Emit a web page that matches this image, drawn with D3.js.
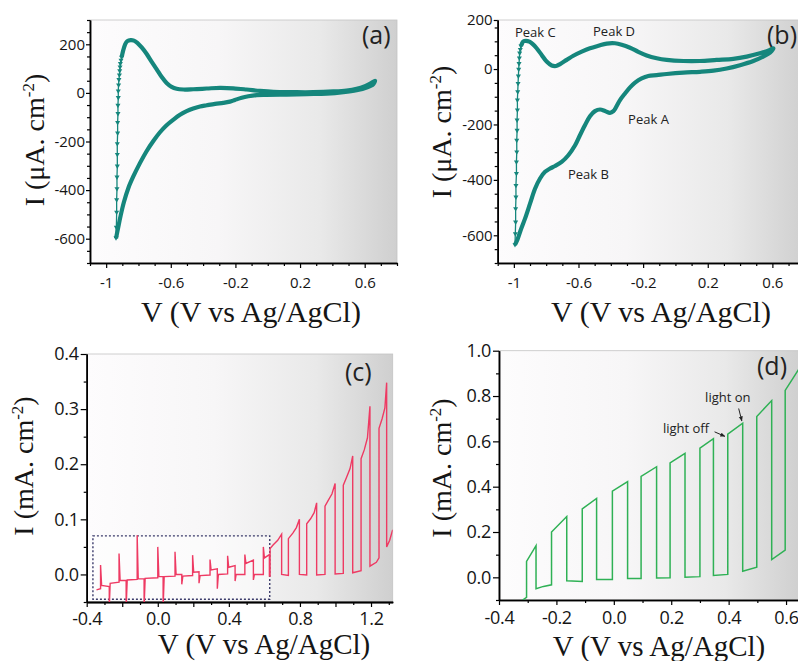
<!DOCTYPE html>
<html>
<head>
<meta charset="utf-8">
<script src="https://d3js.org/d3.v7.min.js"></script>
<style>
    body { margin: 0; background: #fff; }
    .tick text { font-family: "Open Sans", sans-serif; fill: #151515; }
    .domain { stroke: #000; stroke-width: 1.5; }
    .tick line { stroke: #000; stroke-width: 1.2; }
    .title { font-family: "Liberation Serif", serif; fill: #151515; }
    .note { font-family: "Open Sans", sans-serif; fill: #222; }
</style>
</head>
<body>
<svg id="chart" width="798" height="661"></svg>
<script>
// (a) CV, steep part near -0.93 V (drawn with markers) and the main loop, [V, uA/cm2]
var aTurn = [[-0.939,-596],[-0.937,-553],[-0.935,-491],[-0.935,-440],[-0.933,-394],[-0.933,-346],
    [-0.931,-301],[-0.931,-253],[-0.931,-209],[-0.929,-165],[-0.929,-122],[-0.927,-85],[-0.927,-51],
    [-0.925,-19],[-0.925,8],[-0.923,33],[-0.921,55],[-0.918,74],[-0.916,91],[-0.914,107],[-0.912,121],
    [-0.908,135],[-0.904,147]];
var aLoop = [[-0.904,147],[-0.894,176],[-0.883,199],[-0.869,213],[-0.848,217],[-0.828,215],[-0.807,206],
    [-0.780,187],[-0.749,160],[-0.718,128],[-0.687,97],[-0.657,66],[-0.626,41],[-0.595,25],[-0.564,17],
    [-0.522,14],[-0.461,15],[-0.378,18],[-0.296,21],[-0.213,19],[-0.131,14],[-0.048,8],[0.035,4],
    [0.158,3],[0.282,3],[0.406,6],[0.488,10],[0.550,17],[0.602,28],[0.637,39],[0.664,50],
    [0.653,36],[0.612,22],[0.550,11],[0.468,3],[0.365,-3],[0.241,-5],[0.117,-7],[-0.007,-8],
    [-0.069,-9],[-0.120,-14],[-0.161,-20],[-0.203,-29],[-0.234,-36],[-0.275,-41],[-0.326,-45],
    [-0.378,-51],[-0.419,-56],[-0.461,-64],[-0.502,-75],[-0.543,-90],[-0.584,-110],[-0.626,-133],
    [-0.667,-162],[-0.708,-198],[-0.749,-239],[-0.791,-289],[-0.832,-344],[-0.863,-392],[-0.890,-449],
    [-0.910,-504],[-0.925,-552],[-0.939,-599]];

// (b) CV
var bTurn = [[-0.993,-634],[-0.991,-594],[-0.989,-552],[-0.989,-504],[-0.987,-462],[-0.987,-420],
    [-0.984,-377],[-0.984,-335],[-0.982,-299],[-0.982,-257],[-0.980,-221],[-0.980,-184],[-0.978,-148],
    [-0.978,-112],[-0.976,-82],[-0.974,-52],[-0.972,-25],[-0.970,-1],[-0.968,20],[-0.966,40],
    [-0.964,58],[-0.960,71],[-0.956,83]];
var bLoop = [[-0.956,83],[-0.951,90],[-0.941,100],[-0.925,102],[-0.904,99],[-0.883,90],[-0.859,75],
    [-0.828,51],[-0.797,27],[-0.766,13],[-0.739,11],[-0.714,18],[-0.673,33],[-0.632,48],[-0.580,63],
    [-0.529,75],[-0.477,84],[-0.425,92],[-0.374,93],[-0.333,88],[-0.281,77],[-0.230,62],[-0.178,49],
    [-0.116,39],[-0.054,33],[0.049,29],[0.152,29],[0.255,33],[0.358,37],[0.441,45],[0.523,57],
    [0.585,69],[0.606,75],
    [0.585,59],[0.544,45],[0.482,29],[0.400,14],[0.317,2],[0.235,-6],[0.152,-10],[0.049,-13],
    [-0.054,-18],[-0.116,-22],[-0.168,-25],[-0.209,-34],[-0.250,-49],[-0.281,-66],[-0.312,-88],
    [-0.343,-112],[-0.364,-134],[-0.384,-152],[-0.405,-158],[-0.436,-151],[-0.467,-146],[-0.498,-152],
    [-0.529,-170],[-0.560,-203],[-0.591,-239],[-0.621,-275],[-0.663,-311],[-0.704,-335],[-0.745,-350],
    [-0.776,-359],[-0.807,-371],[-0.838,-395],[-0.869,-432],[-0.900,-486],[-0.931,-540],[-0.958,-582],
    [-0.978,-616],[-0.993,-634]];
var bPeaks = [["Peak C",-0.993,116],["Peak D",-0.510,119],["Peak A",-0.293,-199],["Peak B",-0.665,-398]];

// (c) chopped LSV [V, mA/cm2]
var cCurve = [[-0.345,-0.028],
    [-0.322,-0.026],[-0.322,0.017],[-0.316,-0.020],[-0.273,-0.022],[-0.273,-0.060],[-0.268,-0.016],
    [-0.218,-0.014],[-0.218,0.038],[-0.212,-0.011],[-0.178,-0.011],[-0.178,-0.060],[-0.172,-0.010],
    [-0.116,-0.009],[-0.116,0.071],[-0.110,-0.008],[-0.077,-0.008],[-0.077,-0.060],[-0.071,-0.007],
    [0.000,-0.006],[0.000,0.050],[0.006,-0.004],[0.030,-0.004],[0.030,-0.060],[0.036,-0.004],
    [0.097,-0.003],[0.097,0.041],[0.103,0.000],[0.135,0.000],[0.135,-0.018],[0.141,-0.003],
    [0.196,-0.002],[0.196,0.035],[0.202,0.004],[0.232,0.005],[0.232,-0.016],[0.238,-0.002],
    [0.294,-0.001],[0.294,0.027],[0.300,0.008],[0.335,0.010],[0.335,-0.026],[0.341,0.000],
    [0.393,0.001],[0.393,0.034],[0.399,0.013],[0.435,0.016],[0.435,-0.012],[0.441,0.000],
    [0.490,0.000],[0.490,0.036],[0.496,0.020],[0.538,0.026],[0.538,-0.010],[0.544,0.000],
    [0.594,0.000],[0.594,0.050],[0.600,0.030],[0.628,0.036],[0.628,-0.003],[0.632,-0.003],
    [0.632,0.047],[0.650,0.054],[0.675,0.062],[0.697,0.073],[0.697,0.000],[0.735,-0.002],
    [0.735,0.065],[0.760,0.075],[0.780,0.085],[0.797,0.100],[0.797,0.000],[0.838,-0.001],
    [0.838,0.092],[0.860,0.101],[0.880,0.112],[0.894,0.130],[0.894,-0.001],[0.941,0.000],
    [0.941,0.124],[0.960,0.135],[0.980,0.146],[0.998,0.165],[0.998,0.001],[1.044,0.002],
    [1.044,0.162],[1.062,0.176],[1.082,0.192],[1.097,0.215],[1.097,0.003],[1.144,0.007],
    [1.144,0.210],[1.162,0.226],[1.180,0.248],[1.194,0.305],[1.194,0.015],[1.230,0.022],[1.245,0.030],
    [1.245,0.265],[1.262,0.282],[1.278,0.302],[1.288,0.348],[1.288,0.050],[1.305,0.062],[1.322,0.081]];
var cBox = [-0.365, 0.63, -0.045, 0.07];   // V min, V max, I min, I max

// (d) chopped LSV
var dCurve = [[-0.318,-0.100],[-0.304,-0.088],[-0.304,0.070],[-0.271,0.140],[-0.271,-0.050],
    [-0.245,-0.040],[-0.217,-0.033],
    [-0.217,0.200],[-0.164,0.268],[-0.164,-0.015],[-0.110,-0.018],
    [-0.110,0.302],[-0.060,0.348],[-0.060,-0.009],[-0.005,-0.009],
    [-0.005,0.380],[0.048,0.422],[0.048,-0.005],[0.095,-0.005],
    [0.095,0.445],[0.149,0.488],[0.149,-0.003],[0.196,-0.002],
    [0.196,0.505],[0.248,0.547],[0.248,0.000],[0.300,0.003],
    [0.300,0.570],[0.347,0.612],[0.347,0.008],[0.397,0.013],
    [0.397,0.632],[0.449,0.680],[0.449,0.027],[0.498,0.045],
    [0.498,0.710],[0.550,0.780],[0.550,0.078],[0.597,0.120],
    [0.597,0.825],[0.620,0.870],[0.645,0.920]];
// [text, text V, text I, arrow from V, I, arrow to V, I]
var dNotes = [["light on",0.318,0.774,0.435,0.745,0.446,0.690],
    ["light off",0.171,0.637,0.351,0.642,0.387,0.622]];

// ticks
var xLabAB = [-1, -0.6, -0.2, 0.2, 0.6];
var xMinAB = [-1.1,-0.9,-0.8,-0.7,-0.5,-0.4,-0.3,-0.1,0,0.1,0.3,0.4,0.5,0.7,0.8];
var yLabA = [-600, -400, -200, 0, 200];
var yMinA = [-700,-650,-550,-500,-450,-350,-300,-250,-150,-100,-50,50,100,150,250,300];
var yLabB = [-600, -400, -200, 0, 177];
var yMinB = [-700,-650,-550,-500,-450,-350,-300,-250,-150,-100,-50,50,100,150];
var xLabC = [-0.4, 0, 0.4, 0.8, 1.2];
var xMidC = [-0.2, 0.2, 0.6, 1.0];
var xMinC = [-0.3,-0.1,0.1,0.3,0.5,0.7,0.9,1.1,1.3];
var yLabC = [0, 0.1, 0.2, 0.3, 0.4];
var yMinC = [-0.05, 0.05, 0.15, 0.25, 0.35];
var xLabD = [-0.4, -0.2, 0, 0.2, 0.4, 0.6];
var xMinD = [-0.3, -0.1, 0.1, 0.3, 0.5];
var yLabD = [0, 0.2, 0.4, 0.6, 0.8, 1.0];
var yMinD = [-0.1, 0.1, 0.3, 0.5, 0.7, 0.9];

var svg = d3.select("#chart");
var defs = svg.append("defs");
var grad = defs.append("linearGradient").attr("id", "bg");
[[0, "#fdfcfd"], [0.42, "#f7f6f7"], [0.75, "#e9e9e9"], [1, "#cfcfcf"]].forEach(function (s) {
    grad.append("stop").attr("offset", s[0]).attr("stop-color", s[1]);
});

function hy(s) { return s.replace("\u2212", "-"); }

function drawPanel(p) {
    var x = d3.scaleLinear().domain(p.xDomain).range(p.xRange);
    var y = d3.scaleLinear().domain(p.yDomain).range(p.yRange);
    var g = svg.append("g");
    var w = p.xRange[1] - p.xRange[0], h = p.yRange[0] - p.yRange[1];

    g.append("rect")
        .attr("x", p.xRange[0]).attr("y", p.yRange[1])
        .attr("width", w).attr("height", h)
        .attr("fill", "url(#bg)")
        .attr("stroke", "#c4c4c4").attr("stroke-width", 0.8);

    defs.append("clipPath").attr("id", "clip-" + p.id)
        .append("rect").attr("x", p.xRange[0]).attr("y", p.yRange[1])
        .attr("width", w).attr("height", h);

    var xg = g.append("g").attr("transform", "translate(0," + p.yRange[0] + ")");
    xg.call(d3.axisBottom(x).tickValues(p.xMin).tickSize(3).tickSizeOuter(0).tickFormat(""));
    if (p.xMid) xg.append("g").call(d3.axisBottom(x).tickValues(p.xMid).tickSize(5).tickSizeOuter(0).tickFormat(""));
    xg.append("g").call(d3.axisBottom(x).tickValues(p.xLab).tickSize(5).tickSizeOuter(0)
        .tickPadding(p.xPad).tickFormat(p.fmtX))
        .selectAll("text").style("font-size", p.fs + "px").style("letter-spacing", p.ls + "px");

    var yg = g.append("g").attr("transform", "translate(" + p.xRange[0] + ",0)");
    yg.call(d3.axisLeft(y).tickValues(p.yMin).tickSize(3).tickSizeOuter(0).tickFormat(""));
    yg.append("g").call(d3.axisLeft(y).tickValues(p.yLab).tickSize(p.yTick).tickSizeOuter(0)
        .tickPadding(p.yPad).tickFormat(p.fmtY))
        .selectAll("text").style("font-size", p.fs + "px").style("letter-spacing", p.ls + "px");

    // axis titles
    g.append("text").attr("class", "title")
        .attr("x", p.xTitle[0]).attr("y", p.xTitle[1])
        .attr("text-anchor", "middle").style("font-size", p.tfs + "px")
        .text("V (V vs Ag/AgCl)");
    var t = g.append("text").attr("class", "title")
        .attr("transform", "translate(" + p.yTitle[0] + "," + p.yTitle[1] + ") rotate(-90)")
        .attr("text-anchor", "middle").style("font-size", "28px");
    t.append("tspan").text(p.unit + "A. cm");
    t.append("tspan").attr("dy", -10).style("font-size", "17px").text("-2");
    t.append("tspan").attr("dy", 10).text(")");

    g.append("text").attr("class", "note")
        .attr("x", p.tag[0]).attr("y", p.tag[1])
        .style("font-size", "25px").text(p.tagText);

    var plot = g.append("g").attr("clip-path", "url(#clip-" + p.id + ")");
    return { x: x, y: y, g: g, plot: plot };
}

var fmtAB = function (d) { return hy(String(d)); };
var fmtCD = function (d) { return hy(d.toFixed(1)); };

var teal = "#15867c";

// (a)
var pa = drawPanel({ id: "a", xDomain: [-1.1, 0.8], xRange: [90, 397], yDomain: [-700, 300], yRange: [263, 20],
    xLab: xLabAB, xMin: xMinAB, yLab: yLabA, yMin: yMinA, fs: 15, ls: 0, xPad: 9, yPad: 1, yTick: 4,
    fmtX: fmtAB, fmtY: fmtAB, xTitle: [251, 322], tfs: 30, yTitle: [44, 140], unit: "I (\u03bc",
    tag: [362, 44], tagText: "(a)" });
// (b)
var pb = drawPanel({ id: "b", xDomain: [-1.1, 0.8], xRange: [497.7, 804.7], yDomain: [-700, 177], yRange: [263, 20],
    xLab: xLabAB, xMin: xMinAB, yLab: yLabB, yMin: yMinB, fs: 15, ls: 0, xPad: 9, yPad: 1, yTick: 4,
    fmtX: fmtAB, fmtY: function (d) { return d > 170 ? "200" : hy(String(d)); },
    xTitle: [661, 322], tfs: 30, yTitle: [451, 132], unit: "I (\u03bc", tag: [767, 44], tagText: "(b)" });
// (c)
var pc = drawPanel({ id: "c", xDomain: [-0.4, 1.322], xRange: [86.7, 392.7], yDomain: [-0.05, 0.4], yRange: [602, 354],
    xLab: xLabC, xMid: xMidC, xMin: xMinC, yLab: yLabC, yMin: yMinC, fs: 18, ls: -0.3, xPad: 5, yPad: 2, yTick: 6,
    fmtX: fmtCD, fmtY: fmtCD, xTitle: [264, 654], tfs: 29, yTitle: [33, 466], unit: "I (m",
    tag: [345, 381], tagText: "(c)" });
// (d)
var pd = drawPanel({ id: "d", xDomain: [-0.4, 0.65], xRange: [499, 800.4], yDomain: [-0.1, 1.0], yRange: [600, 350.7],
    xLab: xLabD, xMin: xMinD, yLab: yLabD, yMin: yMinD, fs: 18, ls: -0.3, xPad: 6, yPad: 2, yTick: 6,
    fmtX: fmtCD, fmtY: fmtCD, xTitle: [659, 656], tfs: 29, yTitle: [451, 468], unit: "I (m",
    tag: [757, 375], tagText: "(d)" });

function cv(p, loop, turn) {
    var line = d3.line().x(d => p.x(d[0])).y(d => p.y(d[1])).curve(d3.curveCatmullRom);
    p.plot.append("path").datum(turn).attr("d", line)
        .attr("fill", "none").attr("stroke", teal).attr("stroke-width", 1.3);
    p.plot.append("path").datum(loop).attr("d", line)
        .attr("fill", "none").attr("stroke", teal).attr("stroke-width", 4.2)
        .attr("stroke-linejoin", "round");
    p.plot.selectAll(".mk").data(turn).enter().append("path")
        .attr("d", d3.symbol().type(d3.symbolTriangle).size(11))
        .attr("transform", d => "translate(" + p.x(d[0]) + "," + p.y(d[1]) + ") rotate(180)")
        .attr("fill", teal);
}
cv(pa, aLoop, aTurn);
cv(pb, bLoop, bTurn);

pb.g.selectAll(".peak").data(bPeaks).enter().append("text")
    .attr("class", "note").style("font-size", "13px")
    .attr("x", d => pb.x(d[1])).attr("y", d => pb.y(d[2]))
    .text(d => d[0]);

// (c)
var linePlain = function (p) { return d3.line().x(d => p.x(d[0])).y(d => p.y(d[1])); };
pc.plot.append("rect")
    .attr("x", pc.x(cBox[0])).attr("y", pc.y(cBox[3]))
    .attr("width", pc.x(cBox[1]) - pc.x(cBox[0])).attr("height", pc.y(cBox[2]) - pc.y(cBox[3]))
    .attr("fill", "#fff").attr("fill-opacity", 0.45)
    .attr("stroke", "#3b3b6b").attr("stroke-width", 1.4).attr("stroke-dasharray", "2,2");
pc.plot.append("path").datum(cCurve).attr("d", linePlain(pc))
    .attr("fill", "none").attr("stroke", "#ee3a63").attr("stroke-width", 1.4);

// (d)
pd.plot.append("path").datum(dCurve).attr("d", linePlain(pd))
    .attr("fill", "none").attr("stroke", "#2fb155").attr("stroke-width", 1.5);

defs.append("marker").attr("id", "arr").attr("viewBox", "0 0 10 10")
    .attr("refX", 9).attr("refY", 5).attr("markerWidth", 5).attr("markerHeight", 5)
    .attr("orient", "auto")
    .append("path").attr("d", "M0,1L10,5L0,9z").attr("fill", "#222");
dNotes.forEach(function (n) {
    pd.g.append("text").attr("class", "note").style("font-size", "13px")
        .attr("x", pd.x(n[1])).attr("y", pd.y(n[2])).text(n[0]);
    pd.g.append("line")
        .attr("x1", pd.x(n[3])).attr("y1", pd.y(n[4]))
        .attr("x2", pd.x(n[5])).attr("y2", pd.y(n[6]))
        .attr("stroke", "#222").attr("stroke-width", 1).attr("marker-end", "url(#arr)");
});
</script>
</body>
</html>
